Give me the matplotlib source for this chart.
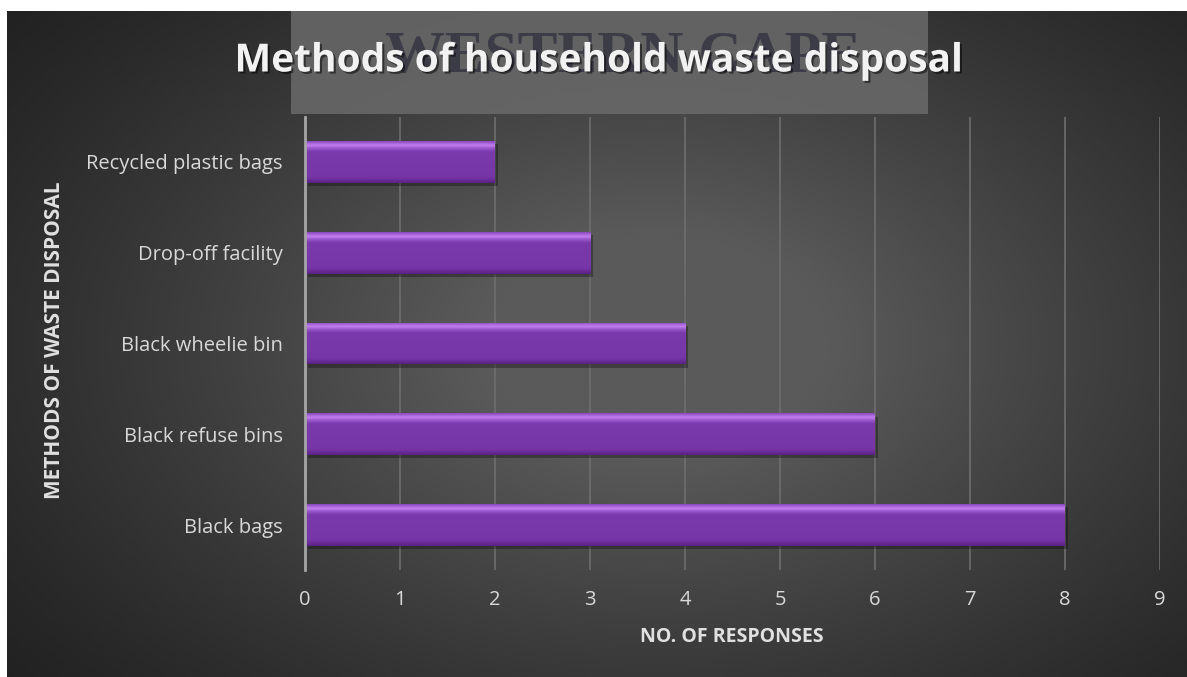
import numpy as np
import matplotlib
matplotlib.use('Agg')
import matplotlib.pyplot as plt
from matplotlib.colors import LinearSegmentedColormap
from matplotlib.patches import Rectangle
import matplotlib.patheffects as pe

# Data
categories = ['Black bags', 'Black refuse bins', 'Black wheelie bin',
              'Drop-off facility', 'Recycled plastic bags']
responses = [8, 6, 4, 3, 2]
x_ticks = list(range(0, 10))

title = 'Methods of household waste disposal'
x_label = 'NO. OF RESPONSES'
y_label = 'METHODS OF WASTE DISPOSAL'
watermark = 'WESTERN CAPE'

W, H = 1187, 677
fig = plt.figure(figsize=(W / 100, H / 100), dpi=100, facecolor='white')

# dark radial background of the chart area
bg = fig.add_axes([7 / W, 0, 1 - 7 / W, 1 - 11 / H])
bg.set_axis_off()
gx, gy = np.meshgrid(np.linspace(0, 1, 400), np.linspace(0, 1, 240))
d = np.sqrt(((gx - 0.55) / 0.75) ** 2 + ((gy - 0.5) / 0.85) ** 2)
shade = np.clip(1 - d, 0, 1) ** 1.3
bg_cmap = LinearSegmentedColormap.from_list('bg', ['#202020', '#5a5a5a'])
bg.imshow(shade, cmap=bg_cmap, aspect='auto', extent=[0, 1, 0, 1],
          interpolation='bicubic', vmin=0, vmax=0.75)
bg.set_xlim(0, 1)
bg.set_ylim(0, 1)

# grey banner behind the title (scanned page remnant)
bg.add_patch(Rectangle(((291 - 7) / (W - 7), 1 - (114 - 11) / (H - 11)),
                       (928 - 291) / (W - 7), (114 - 11) / (H - 11),
                       transform=bg.transAxes, facecolor='#6a6a6a',
                       alpha=0.85, edgecolor='none', zorder=2))
fig.text(623 / W, 1 - 58 / H, watermark, ha='center', va='center',
         fontsize=43, family='Liberation Serif', fontweight='bold',
         color='#2c2c3c', alpha=0.7, zorder=3)

fig.text(598 / W, 1 - 61 / H, title, ha='center', va='center',
         fontsize=28, family='Open Sans', fontweight='bold', color='#f2f2f2',
         zorder=4,
         path_effects=[pe.withSimplePatchShadow(offset=(1.5, -1.5),
                                                 shadow_rgbFace='black',
                                                 alpha=0.5)])

# plot area
ax = fig.add_axes([305 / W, 1 - 570.4 / H, (1160 - 305) / W, (570.4 - 116.6) / H])
ax.patch.set_alpha(0)
y = np.arange(len(categories))
bar_h = 0.46

ax.set_xticks(x_ticks)
ax.set_yticks(y)
ax.set_yticklabels(categories)
ax.grid(axis='x', color='#6e6e6e', linewidth=1.2, zorder=0)
ax.set_axisbelow(True)
for s in ['top', 'right', 'bottom']:
    ax.spines[s].set_visible(False)
ax.spines['left'].set_color('#a6a6a6')
ax.spines['left'].set_linewidth(2)
ax.spines['left'].set_zorder(5)
ax.tick_params(length=0, colors='#d9d9d9', labelsize=14.5)
ax.tick_params(axis='y', pad=16)
ax.tick_params(axis='x', pad=14)
for t in ax.get_xticklabels() + ax.get_yticklabels():
    t.set_family('Open Sans')

# shadows
ax.barh(y - 0.035, responses, height=bar_h, left=0.03, color='black',
        alpha=0.3, zorder=2)

# bars with bevel-like vertical gradient
bar_cmap = LinearSegmentedColormap.from_list(
    'bar', [(0.0, '#5a2282'), (0.07, '#6a2c98'), (0.14, '#7736a8'),
            (0.75, '#7b3aac'), (0.84, '#9c5ccf'), (0.90, '#c37fee'),
            (0.96, '#a460d6'), (1.0, '#8a48bc')])
grad = np.linspace(0, 1, 100).reshape(-1, 1)
bars = ax.barh(y, responses, height=bar_h, color='#7b3aac', zorder=3)
for b in bars:
    x0, y0 = b.get_x(), b.get_y()
    im = ax.imshow(grad, cmap=bar_cmap, aspect='auto', origin='lower',
                   extent=[x0, x0 + b.get_width(), y0, y0 + b.get_height()],
                   zorder=4, interpolation='bilinear')
    im.set_clip_path(b)
ax.set_xlim(0, 9)
ax.set_ylim(-0.5, len(categories) - 0.5)

fig.text(732 / W, 1 - 637 / H, x_label, ha='center', va='center',
         fontsize=14, family='Open Sans', fontweight='bold', color='#e0e0e0')
fig.text(55 / W, 1 - 340 / H, y_label, ha='center', va='center',
         rotation=90, fontsize=15, family='Open Sans', fontweight='bold',
         color='#e0e0e0')

fig.savefig('out.png', dpi=100, facecolor='white')
